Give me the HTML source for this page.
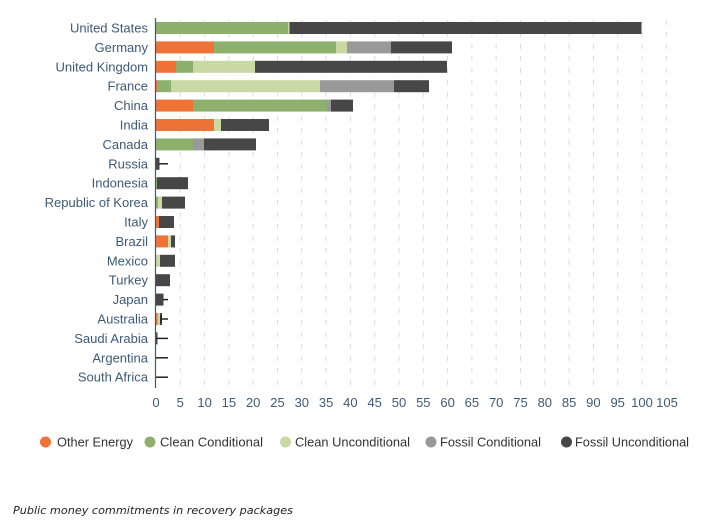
<!DOCTYPE html>
<html><head><meta charset="utf-8"><style>
body{margin:0;background:#fff;}
svg{display:block;font-family:"Liberation Sans",sans-serif;}
</style></head><body>
<svg width="717" height="531" viewBox="0 0 717 531">
<g stroke="#ddd" stroke-width="1" stroke-dasharray="5,7">
<line x1="180.3" y1="20" x2="180.3" y2="388"/><line x1="204.6" y1="20" x2="204.6" y2="388"/><line x1="228.9" y1="20" x2="228.9" y2="388"/><line x1="253.2" y1="20" x2="253.2" y2="388"/><line x1="277.5" y1="20" x2="277.5" y2="388"/><line x1="301.8" y1="20" x2="301.8" y2="388"/><line x1="326.1" y1="20" x2="326.1" y2="388"/><line x1="350.4" y1="20" x2="350.4" y2="388"/><line x1="374.7" y1="20" x2="374.7" y2="388"/><line x1="399" y1="20" x2="399" y2="388"/><line x1="423.3" y1="20" x2="423.3" y2="388"/><line x1="447.6" y1="20" x2="447.6" y2="388"/><line x1="471.9" y1="20" x2="471.9" y2="388"/><line x1="496.2" y1="20" x2="496.2" y2="388"/><line x1="520.5" y1="20" x2="520.5" y2="388"/><line x1="544.8" y1="20" x2="544.8" y2="388"/><line x1="569.1" y1="20" x2="569.1" y2="388"/><line x1="593.4" y1="20" x2="593.4" y2="388"/><line x1="617.7" y1="20" x2="617.7" y2="388"/><line x1="642" y1="20" x2="642" y2="388"/><line x1="666.3" y1="20" x2="666.3" y2="388"/>
</g>
<g>
<rect x="156" y="22" width="132" height="12" fill="#8db06c"/><rect x="288" y="22" width="1.5" height="12" fill="#c9d9a4"/><rect x="289.5" y="22" width="352" height="12" fill="#474747"/>
<rect x="156" y="41.4" width="58" height="12" fill="#ef7236"/><rect x="214" y="41.4" width="122" height="12" fill="#8db06c"/><rect x="336" y="41.4" width="11" height="12" fill="#c9d9a4"/><rect x="347" y="41.4" width="44" height="12" fill="#999"/><rect x="391" y="41.4" width="61" height="12" fill="#474747"/>
<rect x="156" y="60.8" width="20" height="12" fill="#ef7236"/><rect x="176" y="60.8" width="17" height="12" fill="#8db06c"/><rect x="193" y="60.8" width="62" height="12" fill="#c9d9a4"/><rect x="255" y="60.8" width="192" height="12" fill="#474747"/>
<rect x="156" y="80.2" width="1" height="12" fill="#ef7236"/><rect x="157" y="80.2" width="14" height="12" fill="#8db06c"/><rect x="171" y="80.2" width="149" height="12" fill="#c9d9a4"/><rect x="320" y="80.2" width="74" height="12" fill="#999"/><rect x="394" y="80.2" width="35" height="12" fill="#474747"/>
<rect x="156" y="99.6" width="37" height="12" fill="#ef7236"/><rect x="193" y="99.6" width="134" height="12" fill="#8db06c"/><rect x="327" y="99.6" width="4" height="12" fill="#999"/><rect x="331" y="99.6" width="22" height="12" fill="#474747"/>
<rect x="156" y="119" width="58" height="12" fill="#ef7236"/><rect x="214" y="119" width="7" height="12" fill="#c9d9a4"/><rect x="221" y="119" width="48" height="12" fill="#474747"/>
<rect x="156" y="138.4" width="37" height="12" fill="#8db06c"/><rect x="193" y="138.4" width="11" height="12" fill="#999"/><rect x="204" y="138.4" width="52" height="12" fill="#474747"/>
<rect x="156" y="157.8" width="3.5" height="12" fill="#474747"/><line x1="159" y1="163.8" x2="168" y2="163.8" stroke="#222" stroke-width="1.5"/>
<rect x="156" y="177.2" width="1" height="12" fill="#8db06c"/><rect x="157" y="177.2" width="31" height="12" fill="#474747"/>
<rect x="156" y="196.6" width="2" height="12" fill="#8db06c"/><rect x="158" y="196.6" width="4" height="12" fill="#c9d9a4"/><rect x="162" y="196.6" width="23" height="12" fill="#474747"/>
<rect x="156" y="216" width="3" height="12" fill="#ef7236"/><rect x="159" y="216" width="15" height="12" fill="#474747"/>
<rect x="156" y="235.4" width="12" height="12" fill="#ef7236"/><rect x="168" y="235.4" width="3" height="12" fill="#c9d9a4"/><rect x="171" y="235.4" width="4" height="12" fill="#474747"/>
<rect x="156" y="254.8" width="4" height="12" fill="#c9d9a4"/><rect x="160" y="254.8" width="15" height="12" fill="#474747"/>
<rect x="156" y="274.2" width="14" height="12" fill="#474747"/>
<rect x="156" y="293.6" width="7.5" height="12" fill="#474747"/><line x1="163" y1="299.6" x2="168" y2="299.6" stroke="#222" stroke-width="1.5"/>
<rect x="156" y="313" width="1.5" height="12" fill="#ef7236"/><rect x="157.5" y="313" width="2.5" height="12" fill="#c9d9a4"/><rect x="160" y="313" width="2" height="12" fill="#474747"/><line x1="161" y1="319" x2="168" y2="319" stroke="#222" stroke-width="1.5"/><line x1="161" y1="315" x2="161" y2="323" stroke="#222" stroke-width="1.5"/>
<rect x="156" y="332.4" width="1.5" height="12" fill="#474747"/><line x1="156" y1="338.4" x2="168" y2="338.4" stroke="#222" stroke-width="1.5"/>
<line x1="156" y1="357.8" x2="168" y2="357.8" stroke="#222" stroke-width="1.5"/>
<line x1="156" y1="377.2" x2="168" y2="377.2" stroke="#222" stroke-width="1.5"/>
</g>
<line x1="155.5" y1="18" x2="155.5" y2="388" stroke="#3d5a78" stroke-width="1.2"/>
<g font-size="13" fill="#3d5a78" text-anchor="end">
<text x="148" y="32.5">United States</text><text x="148" y="51.9">Germany</text><text x="148" y="71.3">United Kingdom</text><text x="148" y="90.7">France</text><text x="148" y="110.1">China</text><text x="148" y="129.5">India</text><text x="148" y="148.9">Canada</text><text x="148" y="168.3">Russia</text><text x="148" y="187.7">Indonesia</text><text x="148" y="207.1">Republic of Korea</text><text x="148" y="226.5">Italy</text><text x="148" y="245.9">Brazil</text><text x="148" y="265.3">Mexico</text><text x="148" y="284.7">Turkey</text><text x="148" y="304.1">Japan</text><text x="148" y="323.5">Australia</text><text x="148" y="342.9">Saudi Arabia</text><text x="148" y="362.3">Argentina</text><text x="148" y="381.7">South Africa</text>
</g>
<g font-size="13" fill="#3d5a78" text-anchor="middle">
<text x="156" y="407">0</text><text x="180.3" y="407">5</text><text x="204.6" y="407">10</text><text x="228.9" y="407">15</text><text x="253.2" y="407">20</text><text x="277.5" y="407">25</text><text x="301.8" y="407">30</text><text x="326.1" y="407">35</text><text x="350.4" y="407">40</text><text x="374.7" y="407">45</text><text x="399" y="407">50</text><text x="423.3" y="407">55</text><text x="447.6" y="407">60</text><text x="471.9" y="407">65</text><text x="496.2" y="407">70</text><text x="520.5" y="407">75</text><text x="544.8" y="407">80</text><text x="569.1" y="407">85</text><text x="593.4" y="407">90</text><text x="617.7" y="407">95</text><text x="642" y="407">100</text><text x="667" y="407">105</text>
</g>
<g font-size="13" fill="#333">
<circle cx="45.5" cy="442" r="5.5" fill="#ef7236"/><text x="57" y="446.5" textLength="76" lengthAdjust="spacingAndGlyphs">Other Energy</text>
<circle cx="150" cy="442" r="5.5" fill="#8db06c"/><text x="160" y="446.5" textLength="103" lengthAdjust="spacingAndGlyphs">Clean Conditional</text>
<circle cx="285.5" cy="442" r="5.5" fill="#c9d9a4"/><text x="295" y="446.5" textLength="115" lengthAdjust="spacingAndGlyphs">Clean Unconditional</text>
<circle cx="431" cy="442" r="5.5" fill="#999"/><text x="440" y="446.5" textLength="101" lengthAdjust="spacingAndGlyphs">Fossil Conditional</text>
<circle cx="566.5" cy="442" r="5.5" fill="#474747"/><text x="575" y="446.5" textLength="114" lengthAdjust="spacingAndGlyphs">Fossil Unconditional</text>
</g>
<text x="13" y="514" font-size="11" font-style="italic" fill="#222" font-family="'DejaVu Sans',sans-serif" textLength="280" lengthAdjust="spacingAndGlyphs">Public money commitments in recovery packages</text>
</svg>
</body></html>
